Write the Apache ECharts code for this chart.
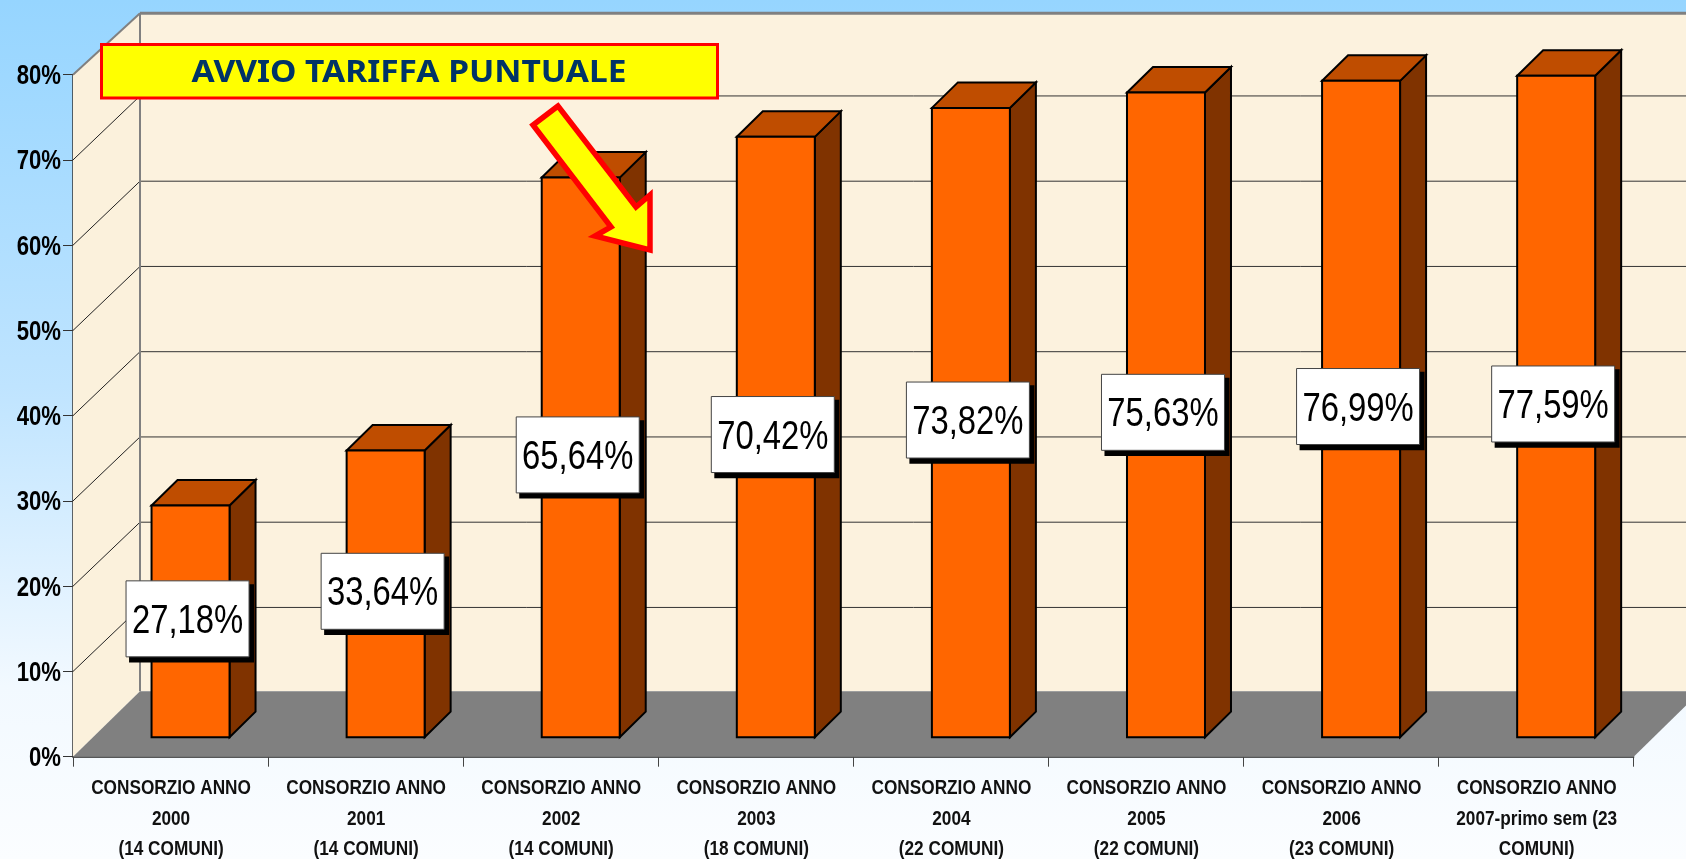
<!DOCTYPE html>
<html>
<head>
<meta charset="utf-8">
<style>html,body{margin:0;padding:0;background:#fff}#c{width:1686px;height:859px}</style>
<script src="https://cdn.jsdelivr.net/npm/echarts@6/dist/echarts.min.js"></script>
</head>
<body>
<div id="c"></div>
<script>
const categories = [
  "CONSORZIO ANNO\n2000\n(14 COMUNI)",
  "CONSORZIO ANNO\n2001\n(14 COMUNI)",
  "CONSORZIO ANNO\n2002\n(14 COMUNI)",
  "CONSORZIO ANNO\n2003\n(18 COMUNI)",
  "CONSORZIO ANNO\n2004\n(22 COMUNI)",
  "CONSORZIO ANNO\n2005\n(22 COMUNI)",
  "CONSORZIO ANNO\n2006\n(23 COMUNI)",
  "CONSORZIO ANNO\n2007-primo sem (23\nCOMUNI)"
];
const values = [27.18, 33.64, 65.64, 70.42, 73.82, 75.63, 76.99, 77.59];
const gridTicks = [0, 10, 20, 30, 40, 50, 60, 70, 80];
const annotationText = "AVVIO TARIFFA PUNTUALE";

const SANS = '"Liberation Sans",Arial,sans-serif';
const NARROW_X = 0.82;
const WALL_DX = 67, FLOOR_DY = -65.5, GRID_DY = -64;
const BAR_DX = 20, BAR_DY = -19.5, DEPTH_X = 26, DEPTH_Y = -25.5, BAR_W = 78;

function renderWalls(params, api) {
  const cs = params.coordSys;
  const yAt = v => api.coord([0, v])[1];
  const L = cs.x, R = cs.x + cs.width;
  const y0 = yAt(0), yTop = yAt(80) - 61.5;
  const yFloor = y0 + FLOOR_DY;
  const poly = (pts, style) => ({type: 'polygon', shape: {points: pts}, style});
  const line = (a, b, stroke, lw) => ({type: 'line', shape: {x1: a[0], y1: a[1], x2: b[0], y2: b[1]}, style: {stroke, lineWidth: lw}});
  const backL = L + WALL_DX, backR = R + WALL_DX;
  const children = [
    poly([[backL, yFloor], [backR, yFloor], [backR, yTop], [backL, yTop]], {fill: '#fcf2de'}),
    poly([[L, y0], [backL, yFloor], [backL, yTop], [L, yAt(80)]], {fill: '#fbf1dc'})
  ];
  gridTicks.forEach(t => {
    if (t === 0 || t === 80) return;
    const y = yAt(t);
    children.push(line([L, y], [backL, y + GRID_DY], '#222', 1));
    children.push(line([backL, y + GRID_DY], [backR, y + GRID_DY], '#333', 1));
  });
  children.push(poly([[L, y0], [R, y0], [backR, yFloor], [backL, yFloor]], {fill: '#808080'}));
  children.push(line([backL, yTop], [backR, yTop], '#808080', 3));
  children.push(line([backL, yTop], [backL, yFloor], '#808080', 2));
  children.push(line([L, yAt(80)], [backL, yTop], '#808080', 2));
  return {type: 'group', children};
}

function renderBar(params, api) {
  const c = api.coord([api.value(0), 0]);
  const t = api.coord([api.value(0), api.value(1)]);
  const x0 = c[0] + BAR_DX - BAR_W / 2, x1 = x0 + BAR_W;
  const yb = c[1] + BAR_DY, yt = t[1] + BAR_DY;
  const st = fill => ({fill, stroke: '#000', lineWidth: 2, lineJoin: 'miter'});
  return {type: 'group', children: [
    {type: 'polygon', shape: {points: [[x1, yb], [x1 + DEPTH_X, yb + DEPTH_Y], [x1 + DEPTH_X, yt + DEPTH_Y], [x1, yt]]}, style: st('#803300')},
    {type: 'polygon', shape: {points: [[x0, yt], [x1, yt], [x1 + DEPTH_X, yt + DEPTH_Y], [x0 + DEPTH_X, yt + DEPTH_Y]]}, style: st('#bf4d00')},
    {type: 'rect', shape: {x: x0, y: yt, width: BAR_W, height: yb - yt}, style: st('#ff6600')}
  ]};
}

function renderLabel(params, api) {
  const c = api.coord([api.value(0), 0]);
  const t = api.coord([api.value(0), api.value(1)]);
  const cx = c[0] + 17;
  const cy = (c[1] + t[1]) / 2 + BAR_DY - 2.5;
  const w = 123, h = 76;
  const txt = api.value(1).toFixed(2).replace('.', ',') + '%';
  return {type: 'group', children: [
    {type: 'rect', shape: {x: cx - w / 2 + 3, y: cy - h / 2 + 3.3, width: w + 2, height: h + 2.4}, style: {fill: '#000'}},
    {type: 'rect', shape: {x: cx - w / 2, y: cy - h / 2, width: w, height: h}, style: {fill: '#fff', stroke: '#444', lineWidth: 1}},
    {type: 'text', x: cx, y: cy + 3, scaleX: NARROW_X, style: {text: txt, x: 0, y: 0, align: 'center', verticalAlign: 'middle', fill: '#000', font: '40px ' + SANS}}
  ]};
}

function renderYLabel(params, api) {
  const p = api.coord([0, api.value(1)]);
  return {type: 'text', x: params.coordSys.x - 12, y: p[1] + 2, scaleX: NARROW_X, style: {
    text: api.value(1) + '%', x: 0, y: 0, align: 'right', verticalAlign: 'middle', fill: '#000', font: 'bold 27px ' + SANS
  }};
}

function renderXLabel(params, api) {
  const p = api.coord([api.value(0), 0]);
  return {type: 'text', x: p[0] + 0.5, y: p[1] + 16.5, scaleX: NARROW_X, style: {
    text: categories[api.value(0)], x: 0, y: 0, align: 'center', verticalAlign: 'top', lineHeight: 30.5, fill: '#111', font: 'bold 21px ' + SANS
  }};
}

const barData = values.map((v, i) => [i, v]);
const chart = echarts.init(document.getElementById('c'), null, {renderer: 'canvas'});
chart.setOption({
  animation: false,
  backgroundColor: {type: 'linear', x: 0, y: 0, x2: 0, y2: 1, colorStops: [
    {offset: 0, color: '#96d5ff'}, {offset: 0.45, color: '#bfe4ff'}, {offset: 0.8, color: '#f2f9ff'}, {offset: 1, color: '#fbfdff'}
  ]},
  grid: {left: 73, top: 74.7, width: 1560.7, height: 682, containLabel: false},
  xAxis: {
    type: 'category', data: categories, boundaryGap: true,
    axisLine: {lineStyle: {color: '#222', width: 1.5}},
    axisTick: {show: true, length: 10, lineStyle: {color: '#444', width: 1}},
    axisLabel: {show: false}
  },
  yAxis: {
    type: 'value', min: 0, max: 80, interval: 10,
    axisLine: {show: true, lineStyle: {color: '#333', width: 1.5}},
    axisTick: {show: true, length: 10, lineStyle: {color: '#333', width: 1}},
    axisLabel: {show: false},
    splitLine: {show: false}
  },
  series: [
    {type: 'custom', z: 1, clip: false, silent: true, data: [[0, 0]], renderItem: renderWalls},
    {type: 'custom', z: 2, clip: false, silent: true, data: barData, encode: {x: 0, y: 1}, renderItem: renderBar},
    {type: 'custom', z: 3, clip: false, silent: true, data: barData, encode: {x: 0, y: 1}, renderItem: renderLabel},
    {type: 'custom', z: 3, clip: false, silent: true, data: gridTicks.map(t => [0, t]), encode: {x: 0, y: 1}, renderItem: renderYLabel},
    {type: 'custom', z: 3, clip: false, silent: true, data: categories.map((c, i) => [i, 0]), encode: {x: 0, y: 1}, renderItem: renderXLabel}
  ],
  graphic: [
    {type: 'rect', z: 10, shape: {x: 101.5, y: 44.5, width: 616, height: 53.5}, style: {fill: '#ffff00', stroke: '#ff0000', lineWidth: 3}},
    {type: 'text', z: 11, x: 409, y: 73, scaleX: 1.08, style: {text: annotationText, x: 0, y: 0, align: 'center', verticalAlign: 'middle', fill: '#003366', font: 'bold 31px "Noto Sans",sans-serif'}},
    {type: 'polygon', z: 10, shape: {points: [[558, 106], [533, 125], [611, 227], [595, 236], [650, 250], [650, 195], [636, 207]]}, style: {fill: '#ffff00', stroke: '#ff0000', lineWidth: 5.5, lineJoin: 'miter'}}
  ]
});
</script>
</body>
</html>
